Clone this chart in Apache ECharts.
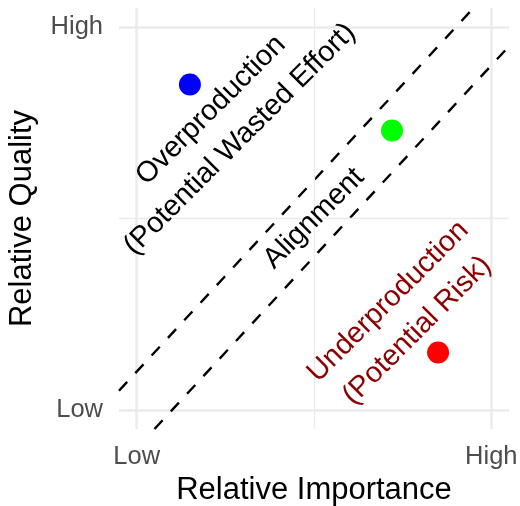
<!DOCTYPE html>
<html>
<head>
<meta charset="utf-8">
<script src="https://cdn.jsdelivr.net/npm/echarts@6/dist/echarts.min.js"></script>
<style>
html,body{margin:0;padding:0;background:#fff;}
#chart{width:520px;height:506px;}
</style>
</head>
<body>
<div id="chart"></div>
<script>
// Data
const tickValues = [0, 1];
const tickLabels = ['Low', 'High'];
const minorValues = [0.5];
const points = [[0.15, 0.85], [0.72, 0.73], [0.85, 0.15]];
const pointColors = ['#0000FF', '#00FF00', '#FF0000'];
const bandOffsets = [0.1, -0.1];
const annotationTexts = ['Overproduction\n(Potential Wasted Effort)', 'Alignment', 'Underproduction\n(Potential Risk)'];
const annotationPos = [[0.25, 0.745], [0.5, 0.5], [0.75, 0.245]];
const annotationColors = ['#000000', '#000000', '#8B0000'];
const axisMin = -0.05, axisMax = 1.05;

const FONT = 'Liberation Sans, Arial, Helvetica, sans-serif';

function labelFmt(v) {
  const i = tickValues.indexOf(Math.round(v * 1000) / 1000);
  return i >= 0 ? tickLabels[i] : '';
}

// Dashed band lines y = x + offset, clipped to the panel
const bandSeries = bandOffsets.map(off => {
  const x0 = Math.max(axisMin, axisMin - off);
  const x1 = Math.min(axisMax, axisMax - off);
  return {
    type: 'line', data: [[x0, x0 + off], [x1, x1 + off]],
    symbol: 'none', silent: true, z: 3,
    lineStyle: { color: '#000', width: 2.4, type: [12, 12], opacity: 1 }
  };
});

const chart = echarts.init(document.getElementById('chart'), null, { renderer: 'canvas' });
chart.setOption({
  animation: false,
  backgroundColor: '#fff',
  grid: { left: 119, right: 11, top: 8, bottom: 77, containLabel: false, outerBoundsMode: 'none' },
  xAxis: {
    type: 'value', min: axisMin, max: axisMax,
    name: 'Relative Importance', nameLocation: 'middle', nameGap: 46,
    nameTextStyle: { fontFamily: FONT, fontSize: 31, color: '#000' },
    axisLine: { show: false },
    axisTick: { show: false, customValues: tickValues },
    axisLabel: { customValues: tickValues, formatter: labelFmt, fontFamily: FONT, fontSize: 25.5, color: '#4d4d4d', margin: 15 },
    splitLine: { show: true, lineStyle: { color: '#ebebeb', width: 2.5 } }
  },
  yAxis: {
    type: 'value', min: axisMin, max: axisMax,
    name: 'Relative Quality', nameLocation: 'middle', nameGap: 81, nameRotate: 90,
    nameTextStyle: { fontFamily: FONT, fontSize: 31, color: '#000' },
    axisLine: { show: false },
    axisTick: { show: false, customValues: tickValues },
    axisLabel: { customValues: tickValues, formatter: labelFmt, fontFamily: FONT, fontSize: 25.5, color: '#4d4d4d', margin: 16 },
    splitLine: { show: true, lineStyle: { color: '#ebebeb', width: 2.5 } }
  },
  series: [
    {
      type: 'scatter', data: [], silent: true, z: 1,
      markLine: {
        silent: true, symbol: 'none', animation: false,
        label: { show: false },
        lineStyle: { color: '#ebebeb', width: 1.3, type: 'solid', opacity: 1 },
        data: minorValues.map(v => ({ xAxis: v })).concat(minorValues.map(v => ({ yAxis: v })))
      }
    },
    ...bandSeries,
    {
      type: 'scatter', symbolSize: 22, z: 4, silent: true,
      itemStyle: { opacity: 1 },
      data: points.map((p, i) => ({ value: p, itemStyle: { color: pointColors[i], opacity: 1 } }))
    },
    {
      type: 'scatter', symbolSize: 0, z: 5, silent: true,
      itemStyle: { opacity: 1 },
      data: annotationPos.map((p, i) => ({
        value: p,
        label: {
          show: true, formatter: annotationTexts[i], position: 'inside', rotate: 45,
          align: 'center', verticalAlign: 'middle', opacity: 1,
          textBorderWidth: 0,
          fontFamily: FONT, fontSize: 29, lineHeight: 41, color: annotationColors[i]
        }
      }))
    }
  ]
});
</script>
</body>
</html>
